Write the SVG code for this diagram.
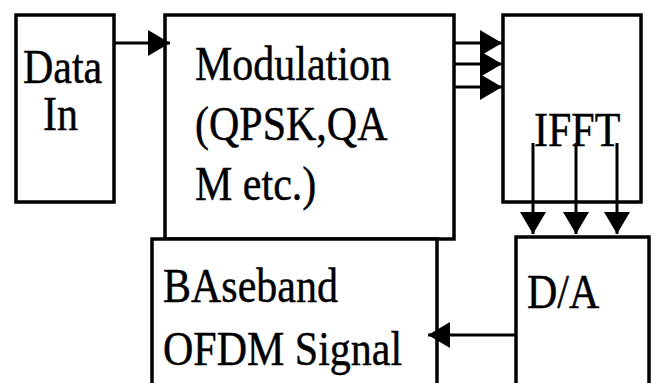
<svg xmlns="http://www.w3.org/2000/svg" width="654" height="383" viewBox="0 0 654 383">
<style>
.box{fill:#fff;stroke:#000;stroke-width:3.5}
.t{font-family:"Liberation Serif","Times New Roman",serif;font-size:42px;fill:#000;stroke:#000;stroke-width:0.4}
.c{fill:none;stroke:#000;stroke-width:3}
</style>
<defs>
<marker id="ah" viewBox="0 0 22 26" refX="22" refY="13" markerWidth="22" markerHeight="26" markerUnits="userSpaceOnUse" orient="auto">
<path d="M0,0 L22,13 L0,26 Z" fill="#000"/>
</marker>
</defs>
<rect width="654" height="383" fill="#fff"/>
<g id="data-in">
<rect class="box" x="16" y="15" width="98" height="187"/>
<text class="t" transform="matrix(1 0 0 1.18 23 83)">Data</text>
<text class="t" transform="matrix(1 0 0 1.18 43 130)">In</text>
</g>
<g id="modulation">
<rect class="box" x="165" y="15" width="289" height="224"/>
<text class="t" transform="matrix(1 0 0 1.18 195 80)">Modulation</text>
<text class="t" transform="matrix(1 0 0 1.18 195 140)">(QPSK,QA</text>
<text class="t" transform="matrix(1 0 0 1.18 195 200)">M etc.)</text>
</g>
<g id="ifft">
<rect class="box" x="503" y="15" width="138" height="187"/>
<text class="t" transform="matrix(1 0 0 1.18 534 146)">IFFT</text>
</g>
<g id="baseband">
<rect class="box" x="152" y="239" width="285" height="160"/>
<text class="t" transform="matrix(1 0 0 1.18 163 302)">BAseband</text>
<text class="t" transform="matrix(1 0 0 1.18 163 365)">OFDM Signal</text>
</g>
<g id="da">
<rect class="box" x="516" y="237" width="133" height="160"/>
<text class="t" transform="matrix(1 0 0 1.18 527 308)">D/A</text>
</g>
<g id="connectors">
<line class="c" x1="114" y1="43" x2="170" y2="43" marker-end="url(#ah)"/>
<line class="c" x1="454" y1="43" x2="502" y2="43" marker-end="url(#ah)"/>
<line class="c" x1="454" y1="64" x2="502" y2="64" marker-end="url(#ah)"/>
<line class="c" x1="454" y1="87" x2="502" y2="87" marker-end="url(#ah)"/>
<line class="c" x1="533" y1="143" x2="533" y2="234" marker-end="url(#ah)"/>
<line class="c" x1="576" y1="143" x2="576" y2="234" marker-end="url(#ah)"/>
<line class="c" x1="617" y1="143" x2="617" y2="234" marker-end="url(#ah)"/>
<line class="c" x1="516" y1="335" x2="428" y2="335" marker-end="url(#ah)"/>
</g>
</svg>
